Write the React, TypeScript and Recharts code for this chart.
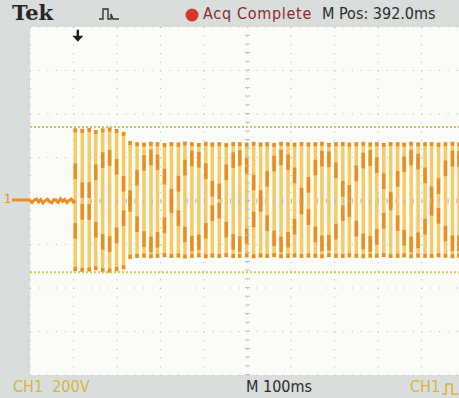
import {
  ComposedChart,
  Bar,
  Line,
  XAxis,
  YAxis,
  CartesianGrid,
  ReferenceLine,
  ReferenceDot,
} from 'recharts';

// Scope screen: 10 x 8 divisions, 100 ms/div and 200 V/div
const TIME_DOMAIN = [-110, 890];
const VOLT_DOMAIN = [-800, 800];
const majorTimes = [-110, -10, 90, 190, 290, 390, 490, 590, 690, 790, 890];
const majorVolts = [-800, -600, -400, -200, 0, 200, 400, 600, 800];

// minor graticule marks, 5 per division
const minorTimes: number[] = [];
for (let t = -110; t <= 890; t += 20) minorTimes.push(t);
const minorVolts: number[] = [];
for (let v = -800; v <= 800; v += 40) minorVolts.push(v);

// pre-trigger trace, sitting on the channel ground
const baseTimes = [-110, -105, -100, -95, -90, -85, -80, -75, -70, -65, -60, -55, -50, -45, -40, -35, -30, -25, -20, -15, -10, -6];
const baseVolts = [3, -7, 5, 9, -4, 6, -9, 2, 8, -3, -8, 6, 4, -6, 10, -2, 7, -7, 3, 9, -5, 2];

// one entry per cycle of the burst
const cycleTimes = [
  -7, 9, 25, 40, 56, 72, 88, 104, 119, 135, 151, 167, 182, 198, 214, 230, 245, 261, 277,
  293, 308, 324, 340, 356, 371, 387, 403, 419, 434, 450, 466, 482, 497, 513, 529, 545,
  560, 576, 592, 608, 623, 639, 655, 671, 686, 702, 718, 734, 749, 765, 781, 797, 812,
  828, 844, 860, 875,
];
const peakHigh = [
  334, 332, 336, 326, 334, 338, 331, 318, 276, 270, 268, 272, 270, 266, 271, 268, 273, 270, 267,
  272, 269, 270, 266, 271, 270, 268, 272, 269, 270, 267, 272, 270, 268, 271, 269, 270,
  272, 267, 270, 271, 268, 270, 272, 269, 270, 267, 271, 270, 268, 272, 269, 270, 271,
  268, 270, 272, 269,
];
const peakLow = [
  -322, -326, -324, -318, -327, -329, -322, -314, -266, -262, -260, -263, -261, -258, -262, -260, -264, -261, -259,
  -263, -260, -262, -258, -262, -261, -259, -263, -260, -262, -258, -263, -261, -259, -262, -260, -261,
  -263, -258, -261, -262, -259, -261, -263, -260, -261, -258, -262, -261, -259, -263, -260, -261, -262,
  -259, -261, -263, -260,
];
// where the beat pattern puts the brighter (orange) part of each swing
const beatLevel = [
  137, 50, 50, 132, 188, 198, 158, 79, 13, 107, 175, 200, 178, 112, 19, 79, 154, 196, 190,
  137, 56, 44, 132, 188, 198, 162, 85, 13, 102, 172, 200, 178, 118, 25, 74, 154,
  195, 192, 141, 56, 37, 127, 186, 198, 165, 91, 6, 102, 169, 200, 181, 118, 31,
  68, 150, 195, 194,
];

const cycles = cycleTimes.map((t, i) => ({
  t,
  swing: [peakLow[i], peakHigh[i]] as [number, number],
  beat: beatLevel[i],
}));
const baseline = baseTimes.map((t, i) => ({ tb: t, base: baseVolts[i] }));

const TRACE = '#f4cb66';
const TRACE_HOT = '#e98e22';
const GRAT = '#bdbdbd';

function SwingBar(props: any) {
  const { x, y, width, height, payload } = props;
  if (!payload || !payload.swing) return null;
  const [lo, hi] = payload.swing;
  const top = Math.min(y, y + height);
  const h = Math.abs(height);
  const toY = (v: number) => top + ((hi - v) / (hi - lo)) * h;
  const b = payload.beat;
  const half = 36;
  return (
    <g>
      <rect x={x} y={top} width={width} height={h} fill={TRACE} />
      <rect x={x} y={toY(b + half)} width={width} height={toY(b - half) - toY(b + half)} fill={TRACE_HOT} />
      <rect x={x} y={toY(-b + half)} width={width} height={toY(-b - half) - toY(-b + half)} fill={TRACE_HOT} />
      <rect x={x} y={top} width={width} height={4} fill={TRACE_HOT} />
      <rect x={x} y={top + h - 4} width={width} height={4} fill={TRACE_HOT} />
    </g>
  );
}

function TriggerArrow(props: any) {
  const { cx, cy } = props;
  return (
    <g fill="#1e1e1e">
      <rect x={cx - 1.2} y={cy - 6} width={2.4} height={7} />
      <path d={`M${cx - 5.5},${cy} L${cx + 5.5},${cy} L${cx},${cy + 6} Z`} />
    </g>
  );
}

const screenFont = '"Liberation Sans Narrow", "DejaVu Sans Condensed", "Roboto", sans-serif';

export default function App() {
  return (
    <div
      style={{
        position: 'fixed',
        left: 0,
        top: 0,
        width: 459,
        height: 398,
        overflow: 'hidden',
        background: '#d9dedd',
        fontFamily: screenFont,
      }}
    >
      <ComposedChart
        width={465}
        height={398}
        data={cycles}
        margin={{ top: 27, right: 0, bottom: 23, left: 30 }}
      >
        <CartesianGrid
          fill="#fbfbf8"
          stroke={GRAT}
          strokeDasharray="1 7.7"
          strokeWidth={1.2}
        />
        <XAxis type="number" dataKey="t" domain={TIME_DOMAIN} ticks={majorTimes} hide />
        <XAxis xAxisId="pre" type="number" dataKey="tb" domain={TIME_DOMAIN} hide />
        <YAxis type="number" domain={VOLT_DOMAIN} ticks={majorVolts} hide />
        <XAxis
          xAxisId="edgeBottom"
          type="number"
          dataKey="t"
          domain={TIME_DOMAIN}
          ticks={minorTimes}
          orientation="bottom"
          mirror
          height={0}
          tick={false}
          tickSize={5}
          axisLine={false}
          tickLine={{ stroke: GRAT }}
        />
        <XAxis
          xAxisId="edgeTop"
          type="number"
          dataKey="t"
          domain={TIME_DOMAIN}
          ticks={minorTimes}
          orientation="top"
          mirror
          height={0}
          tick={false}
          tickSize={3}
          axisLine={false}
          tickLine={{ stroke: GRAT }}
        />
        <YAxis
          yAxisId="edgeLeft"
          type="number"
          domain={VOLT_DOMAIN}
          ticks={minorVolts}
          orientation="left"
          mirror
          width={0}
          tick={false}
          tickSize={3}
          axisLine={false}
          tickLine={{ stroke: GRAT }}
        />
        <ReferenceLine x={390} stroke={GRAT} strokeWidth={5} strokeDasharray="1 7.7" />
        <ReferenceLine y={0} stroke={GRAT} strokeWidth={5} strokeDasharray="1 7.7" />
        <ReferenceLine y={340} stroke="#d8c35a" strokeWidth={2} strokeDasharray="2 2" />
        <ReferenceLine y={-328} stroke="#d8c35a" strokeWidth={2} strokeDasharray="2 2" />
        <Bar dataKey="swing" barSize={3.5} shape={SwingBar} isAnimationActive={false} />
        <Line
          xAxisId="pre"
          data={baseline}
          dataKey="base"
          stroke={TRACE_HOT}
          strokeWidth={3}
          dot={false}
          isAnimationActive={false}
        />
        <ReferenceDot x={0} y={760} shape={TriggerArrow} />
      </ComposedChart>

      {/* status bar */}
      <div
        style={{
          position: 'absolute',
          left: 12,
          top: 0,
          fontFamily: '"DejaVu Serif", serif',
          fontWeight: 700,
          fontSize: 21,
          color: '#262626',
        }}
      >
        Tek
      </div>
      <svg style={{ position: 'absolute', left: 98, top: 6 }} width={22} height={16}>
        <path d="M1,13 L5,13 L5,3 L10,3 L10,13 L13,13 L13,8 L15,13 L21,13" fill="none" stroke="#333" strokeWidth={1.4} />
      </svg>
      <svg style={{ position: 'absolute', left: 185, top: 8 }} width={16} height={16}>
        <circle cx={7} cy={7} r={6.5} fill="#d6362f" />
      </svg>
      <div
        style={{ position: 'absolute', left: 203, top: 4, fontSize: 16, letterSpacing: 0.7, color: '#8d2b25' }}
      >
        Acq Complete
      </div>
      <div style={{ position: 'absolute', left: 322, top: 4, fontSize: 16, color: '#2b2b2b' }}>
        M Pos: 392.0ms
      </div>

      {/* channel ground marker */}
      <div style={{ position: 'absolute', left: 4, top: 191, fontSize: 13, color: TRACE_HOT }}>1</div>
      <svg style={{ position: 'absolute', left: 12, top: 196 }} width={20} height={10}>
        <path d="M0,4 L18,4" stroke={TRACE_HOT} strokeWidth={3} />
      </svg>

      {/* readouts */}
      <div
        style={{
          position: 'absolute',
          left: 13,
          top: 377,
          fontSize: 16,
          color: '#d4b440',
          whiteSpace: 'pre',
        }}
      >
        CH1  200V
      </div>
      <div style={{ position: 'absolute', left: 246, top: 377, fontSize: 16, color: '#2b2b2b' }}>
        M 100ms
      </div>
      <div style={{ position: 'absolute', left: 410, top: 377, fontSize: 16, color: '#d4b440' }}>
        CH1
      </div>
      <svg style={{ position: 'absolute', left: 441, top: 381 }} width={18} height={16}>
        <path d="M1,13 L5,13 L5,3 L11,3 L11,13 L17,13" fill="none" stroke="#d4b440" strokeWidth={1.6} />
      </svg>
    </div>
  );
}
